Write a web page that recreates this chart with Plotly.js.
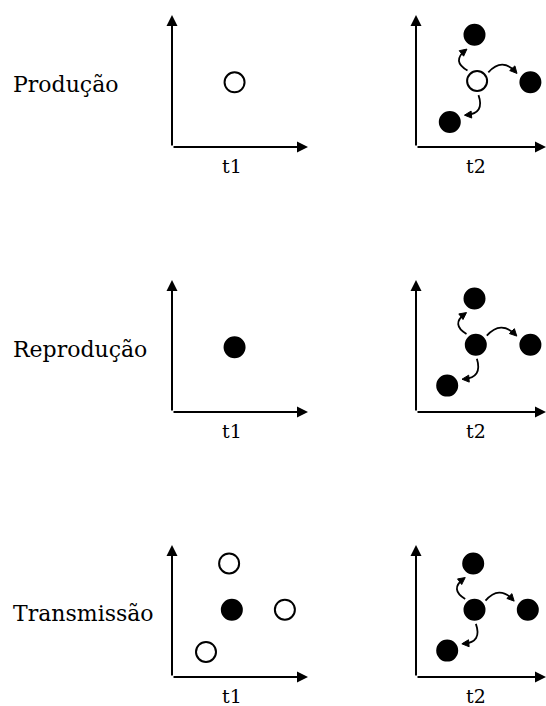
<!DOCTYPE html>
<html><head><meta charset="utf-8">
<script src="https://cdn.plot.ly/plotly-3.0.1.min.js"></script>
<style>html,body{margin:0;padding:0;background:#fff}</style>
</head><body><div id="chart" style="width:546px;height:706px"></div>
<script>
// ---- data ----
const rowLabels = ['Produção', 'Reprodução', 'Transmissão'];
const timeLabels = ['t1', 't2'];
const AXIS_MAX = 10;

const prodT1X = [4.6],               prodT1Y = [4.9],               prodT1Filled = [false];
const prodT2X = [4.5, 4.7, 8.8, 2.6], prodT2Y = [8.5, 5.0, 4.9, 1.9], prodT2Filled = [true, false, true, true];
const reprT1X = [4.6],               reprT1Y = [4.9],               reprT1Filled = [true];
const reprT2X = [4.5, 4.6, 8.8, 2.4], reprT2Y = [8.6, 5.1, 5.1, 2.0], reprT2Filled = [true, true, true, true];
const tranT1X = [4.2, 4.4, 8.3, 2.5], tranT1Y = [8.6, 5.1, 5.1, 1.9], tranT1Filled = [false, true, false, false];
const tranT2X = [4.4, 4.5, 8.6, 2.4], tranT2Y = [8.6, 5.1, 5.1, 2.0], tranT2Filled = [true, true, true, true];

// ---- layout geometry ----
const W = 546, H = 706;
const colDomains = [[172 / W, 308 / W], [416 / W, 546 / W]];
const rowTops = [15, 280, 545], rowBottoms = [147, 412, 677];
const rowDomains = rowTops.map((t, i) => [1 - rowBottoms[i] / H, 1 - t / H]);
const rowLabelY = [85, 349, 613];

const panels = [
  {row: 0, col: 0, x: prodT1X, y: prodT1Y, f: prodT1Filled},
  {row: 0, col: 1, x: prodT2X, y: prodT2Y, f: prodT2Filled},
  {row: 1, col: 0, x: reprT1X, y: reprT1Y, f: reprT1Filled},
  {row: 1, col: 1, x: reprT2X, y: reprT2Y, f: reprT2Filled},
  {row: 2, col: 0, x: tranT1X, y: tranT1Y, f: tranT1Filled},
  {row: 2, col: 1, x: tranT2X, y: tranT2Y, f: tranT2Filled}
];

const serif = 'DejaVu Serif';
const traces = [];
const shapes = [];
const annotations = [];
const layout = {
  width: W, height: H, margin: {l: 0, r: 0, t: 0, b: 0},
  paper_bgcolor: '#fff', plot_bgcolor: 'rgba(0,0,0,0)', showlegend: false,
  font: {family: serif, color: '#000'}
};

panels.forEach((p, i) => {
  const k = i + 1;
  const xn = k === 1 ? 'x' : 'x' + k, yn = k === 1 ? 'y' : 'y' + k;
  const xa = k === 1 ? 'xaxis' : 'xaxis' + k, ya = k === 1 ? 'yaxis' : 'yaxis' + k;
  const xd = colDomains[p.col], yd = rowDomains[p.row];
  layout[xa] = {domain: xd, range: [0, AXIS_MAX], visible: false, fixedrange: true, anchor: yn};
  layout[ya] = {domain: yd, range: [0, AXIS_MAX], visible: false, fixedrange: true, anchor: xn};

  traces.push({
    type: 'scatter', mode: 'markers', xaxis: xn, yaxis: yn, x: p.x, y: p.y,
    cliponaxis: false, hoverinfo: 'skip',
    marker: {size: 20, color: p.f.map(v => v ? '#000' : '#fff'), line: {color: '#000', width: 2}}
  });

  // axes drawn as arrows
  const axisArrow = {xref: xn, yref: yn, axref: xn, ayref: yn, text: '', showarrow: true,
    arrowhead: 2, arrowsize: 1.1, arrowwidth: 2, arrowcolor: '#000', standoff: 0, startstandoff: 0};
  annotations.push(Object.assign({}, axisArrow, {x: AXIS_MAX, y: 0, ax: 0, ay: 0}));
  annotations.push(Object.assign({}, axisArrow, {x: 0, y: AXIS_MAX, ax: 0, ay: 0}));

  // time label under each panel
  annotations.push({xref: xn, yref: yn, x: p.col === 0 ? 4.4 : 4.6, y: 0, yshift: -19,
    text: timeLabels[p.col], showarrow: false, xanchor: 'center', yanchor: 'middle',
    font: {family: serif, size: 19, color: '#000'}});

  // curved arrows from the centre point to the three others (t2 panels)
  if (p.col === 1) {
    const sx = (xd[1] - xd[0]) * W / AXIS_MAX, sy = (yd[1] - yd[0]) * H / AXIS_MAX;
    const C = [p.x[1] * sx, p.y[1] * sy];
    const toD = q => [q[0] / sx, q[1] / sy];
    [0, 2, 3].forEach(j => {
      const T = [p.x[j] * sx, p.y[j] * sy];
      const dv = [T[0] - C[0], T[1] - C[1]];
      const dist = Math.hypot(dv[0], dv[1]);
      const d = [dv[0] / dist, dv[1] / dist];
      const n = [-d[1], d[0]];
      const s = [C[0] + 11 * d[0] + 9 * n[0], C[1] + 11 * d[1] + 9 * n[1]];
      const e = [C[0] + (dist - 15) * d[0] + 10 * n[0], C[1] + (dist - 15) * d[1] + 10 * n[1]];
      const c = [(s[0] + e[0]) / 2 + 15 * n[0], (s[1] + e[1]) / 2 + 15 * n[1]];
      const S = toD(s), E = toD(e), Cc = toD(c);
      shapes.push({type: 'path', xref: xn, yref: yn,
        path: `M ${S[0]},${S[1]} Q ${Cc[0]},${Cc[1]} ${E[0]},${E[1]}`,
        line: {color: '#000', width: 1.8}});
      const tv = [e[0] - c[0], e[1] - c[1]];
      const tl = Math.hypot(tv[0], tv[1]);
      const t = [tv[0] / tl, tv[1] / tl], tn = [-t[1], t[0]];
      const tip = [e[0] + 2 * t[0], e[1] + 2 * t[1]];
      const b1 = [e[0] - 5 * t[0] + 3.5 * tn[0], e[1] - 5 * t[1] + 3.5 * tn[1]];
      const b2 = [e[0] - 5 * t[0] - 3.5 * tn[0], e[1] - 5 * t[1] - 3.5 * tn[1]];
      const P = [tip, b1, b2].map(toD);
      shapes.push({type: 'path', xref: xn, yref: yn,
        path: `M ${P[0][0]},${P[0][1]} L ${P[1][0]},${P[1][1]} L ${P[2][0]},${P[2][1]} Z`,
        fillcolor: '#000', line: {color: '#000', width: 1}});
    });
  }
});

rowLabels.forEach((t, r) => {
  annotations.push({xref: 'paper', yref: 'paper', x: 11 / W, y: 1 - rowLabelY[r] / H,
    text: t, showarrow: false, xanchor: 'left', yanchor: 'middle',
    font: {family: serif, size: 22, color: '#000'}});
});

layout.shapes = shapes;
layout.annotations = annotations;
Plotly.newPlot('chart', traces, layout, {displayModeBar: false, staticPlot: true});
</script></body></html>
